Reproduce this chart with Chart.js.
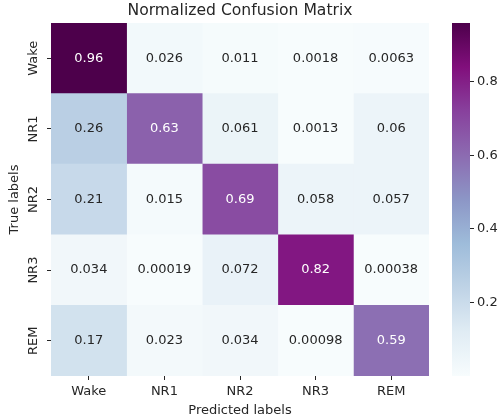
<!DOCTYPE html>
<html>
<head>
<meta charset="utf-8">
<script src="https://cdn.jsdelivr.net/npm/chart.js@4/dist/chart.umd.min.js"></script>
<style>
  body { margin: 0; background: #fff; }
  #wrap { position: relative; width: 501px; height: 420px; }
  #heat { position: absolute; left: 0; top: 0; }
  #cbar { position: absolute; left: 440px; top: 0; }
</style>
</head>
<body>
<div id="wrap">
  <canvas id="heat" width="440" height="420"></canvas>
  <canvas id="cbar" width="61" height="420"></canvas>
</div>
<script>
// labels
const trueLabels = ['Wake', 'NR1', 'NR2', 'NR3', 'REM'];
const predLabels = ['Wake', 'NR1', 'NR2', 'NR3', 'REM'];
const cbarTicks = [0.2, 0.4, 0.6, 0.8];

// normalized confusion matrix, one row per true label
const rowWake = [0.96, 0.026, 0.011, 0.0018, 0.0063];
const rowNR1  = [0.26, 0.63, 0.061, 0.0013, 0.06];
const rowNR2  = [0.21, 0.015, 0.69, 0.058, 0.057];
const rowNR3  = [0.034, 0.00019, 0.072, 0.82, 0.00038];
const rowREM  = [0.17, 0.023, 0.034, 0.00098, 0.59];
const matrix = [rowWake, rowNR1, rowNR2, rowNR3, rowREM];

const vmin = Math.min(...matrix.flat());
const vmax = Math.max(...matrix.flat());

// matplotlib BuPu
const bupu = [
  [247,252,253],[224,236,244],[191,211,230],[158,188,218],[140,150,198],
  [140,107,177],[136,65,157],[129,15,124],[77,0,75]
];
function rgbAt(t) {
  t = Math.max(0, Math.min(1, t)) * (bupu.length - 1);
  const i = Math.min(Math.floor(t), bupu.length - 2);
  const f = t - i;
  return bupu[i].map((c, k) => Math.round(c + (bupu[i + 1][k] - c) * f));
}
function colorFor(v) {
  const c = rgbAt((v - vmin) / (vmax - vmin));
  return `rgb(${c[0]},${c[1]},${c[2]})`;
}
function lum(v) {
  const c = rgbAt((v - vmin) / (vmax - vmin)).map(x => {
    x /= 255;
    return x <= 0.03928 ? x / 12.92 : Math.pow((x + 0.055) / 1.055, 2.4);
  });
  return 0.2126 * c[0] + 0.7152 * c[1] + 0.0722 * c[2];
}

const ink = '#262626';
Chart.defaults.font.family = '"DejaVu Sans"';
Chart.defaults.font.size = 13;
Chart.defaults.color = ink;

const annotate = {
  id: 'annotate',
  afterDatasetsDraw(chart) {
    const ctx = chart.ctx;
    ctx.save();
    ctx.font = '13px "DejaVu Sans"';
    ctx.textAlign = 'center';
    ctx.textBaseline = 'middle';
    chart.data.datasets.forEach((ds, j) => {
      chart.getDatasetMeta(j).data.forEach((bar, i) => {
        const v = matrix[i][j];
        const p = bar.getCenterPoint();
        ctx.fillStyle = lum(v) > 0.408 ? ink : '#ffffff';
        ctx.fillText(String(v), p.x, p.y);
      });
    });
    ctx.restore();
  }
};

const heading = {
  id: 'heading',
  afterDraw(chart) {
    const a = chart.chartArea, ctx = chart.ctx;
    ctx.save();
    ctx.font = '15.6px "DejaVu Sans"';
    ctx.fillStyle = ink;
    ctx.textAlign = 'center';
    ctx.textBaseline = 'middle';
    ctx.fillText('Normalized Confusion Matrix', (a.left + a.right) / 2, 11);
    ctx.restore();
  }
};

new Chart(document.getElementById('heat'), {
  type: 'bar',
  data: {
    labels: trueLabels,
    datasets: predLabels.map((p, j) => ({
      label: p,
      data: trueLabels.map(() => 1),
      backgroundColor: matrix.map(r => colorFor(r[j])),
      borderWidth: 0,
      categoryPercentage: 1,
      barPercentage: 1
    }))
  },
  options: {
    indexAxis: 'y',
    responsive: false,
    animation: false,
    devicePixelRatio: 1,
    layout: { padding: { top: 23, right: 11, left: 0, bottom: 0 } },
    plugins: { legend: { display: false }, tooltip: { enabled: false } },
    scales: {
      x: {
        type: 'linear', stacked: true, min: 0, max: 5,
        afterBuildTicks: s => { s.ticks = predLabels.map((_, i) => ({ value: i + 0.5 })); },
        afterFit: s => { s.height = 44; },
        ticks: { callback: (v, i) => predLabels[i], padding: 4, maxRotation: 0, autoSkip: false },
        grid: { drawOnChartArea: false, tickLength: 4, color: ink },
        border: { display: false },
        title: { display: true, text: 'Predicted labels', padding: { top: 0, bottom: 2 } }
      },
      y: {
        stacked: true,
        afterFit: s => { s.width = 51; },
        ticks: { minRotation: 90, maxRotation: 90, crossAlign: 'center', padding: -4 },
        grid: { offset: false, drawOnChartArea: false, tickLength: 4, color: ink },
        border: { display: false },
        title: { display: true, text: 'True labels', padding: { top: 7, bottom: 0 } }
      }
    }
  },
  plugins: [annotate, heading]
});

function barGradient(chart) {
  const y = chart.scales.y;
  if (!chart.chartArea || !y) return colorFor(vmin);
  const g = chart.ctx.createLinearGradient(0, y.getPixelForValue(vmin), 0, y.getPixelForValue(vmax));
  bupu.forEach((c, i) => g.addColorStop(i / (bupu.length - 1), `rgb(${c[0]},${c[1]},${c[2]})`));
  return g;
}

new Chart(document.getElementById('cbar'), {
  type: 'bar',
  data: {
    labels: [''],
    datasets: [{
      data: [[vmin, vmax]],
      backgroundColor: ctx => barGradient(ctx.chart),
      borderWidth: 0,
      categoryPercentage: 1,
      barPercentage: 1
    }]
  },
  options: {
    responsive: false,
    animation: false,
    devicePixelRatio: 1,
    layout: { padding: { top: 23, bottom: 44, left: 12, right: 0 } },
    plugins: { legend: { display: false }, tooltip: { enabled: false } },
    scales: {
      x: { display: false },
      y: {
        position: 'right', min: vmin, max: vmax,
        afterBuildTicks: s => { s.ticks = cbarTicks.map(v => ({ value: v })); },
        afterFit: s => { s.width = 31; },
        ticks: { padding: 3, callback: v => v.toFixed(1) },
        grid: { drawOnChartArea: false, tickLength: 4, color: ink },
        border: { display: false }
      }
    }
  }
});
</script>
</body>
</html>
